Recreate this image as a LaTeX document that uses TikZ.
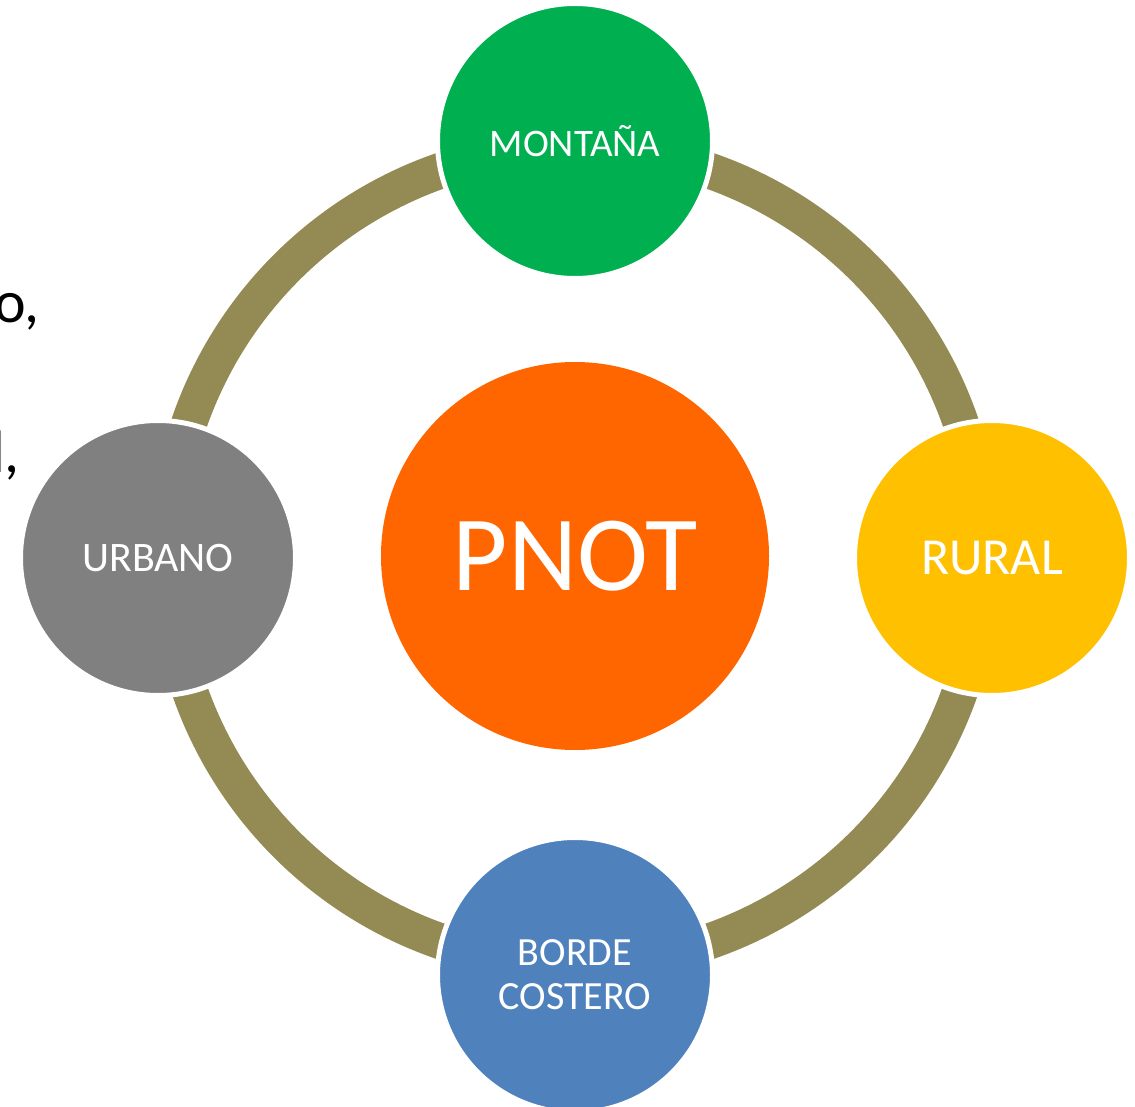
\documentclass[tikz,border=0pt]{standalone}
\usepackage{fontspec}
\setmainfont{Carlito}
\definecolor{bandc}{HTML}{948A54}
\definecolor{greenc}{HTML}{00B050}
\definecolor{orangec}{HTML}{FF6600}
\definecolor{yellowc}{HTML}{FFC000}
\definecolor{grayc}{HTML}{808080}
\definecolor{bluec}{HTML}{4F81BD}
\tikzset{
  ring/.style={draw=bandc, line width=36pt},
  sat/.style={circle, draw=white, line width=5pt, minimum size=275pt, inner sep=0pt, text=white, align=center},
  hub/.style={circle, fill=orangec, minimum size=388pt, inner sep=0pt, text=white},
  side/.style={text=black, inner sep=0pt}
}
\begin{document}
\begin{tikzpicture}[x=1pt,y=-1pt]
\useasboundingbox (0,0) rectangle (1135,1107);
\clip (0,0) rectangle (1135,1107);
\node[hub, font=\fontsize{107}{120}\selectfont] (pnot) at (575,556) {PNOT};
\draw[ring] (pnot.center) circle[radius=408pt];
\node[sat, fill=greenc, font=\fontsize{39}{44}\selectfont] (mont) at (575,141) {MONTAÑA};
\node[sat, fill=yellowc, font=\fontsize{52}{58}\selectfont] (rur) at (992,558) {RURAL};
\node[sat, fill=bluec, font=\fontsize{40}{44}\selectfont] (cost) at (575,975) {BORDE\\COSTERO};
\node[sat, fill=grayc, font=\fontsize{42}{48}\selectfont] (urb) at (158,558) {URBANO};
\node[side, anchor=base east, font=\fontsize{60}{70}\selectfont] (t1) at (40,323) {o,};
\node[side, anchor=base east, font=\fontsize{60}{70}\selectfont] (t2) at (20,472) {l,};
\end{tikzpicture}
\end{document}
